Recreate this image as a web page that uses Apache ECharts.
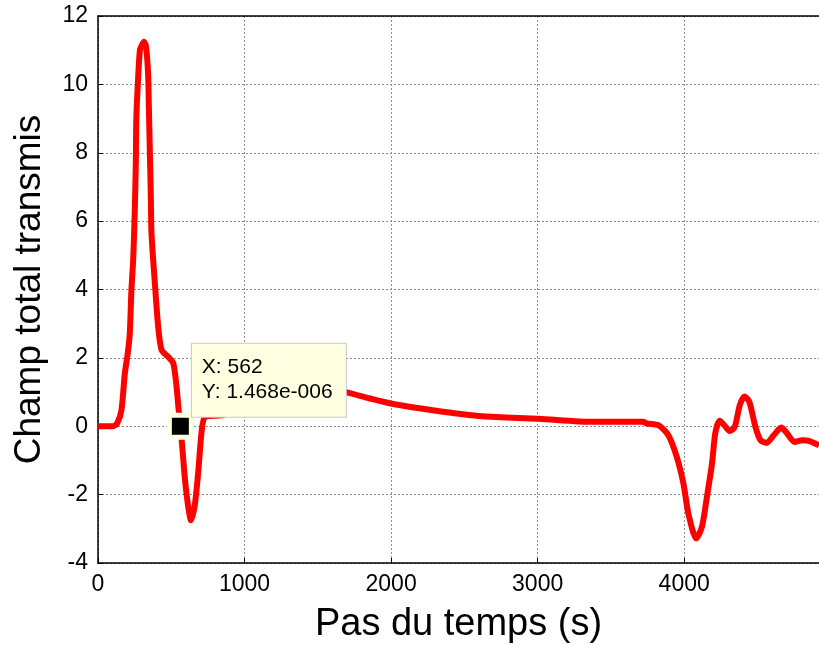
<!DOCTYPE html>
<html>
<head>
<meta charset="utf-8">
<script src="https://cdn.jsdelivr.net/npm/echarts@6/dist/echarts.min.js"></script>
<style>
  html, body { margin: 0; padding: 0; background: #fff; }
  #main { width: 819px; height: 646px; }
</style>
</head>
<body>
<div id="main"></div>
<script>
// pas du temps (s)
const timeSteps = [
  0, 100, 130, 160, 183, 205, 217, 228, 240, 251, 258, 262, 274, 286, 300, 313,
  328, 342, 347, 354, 361, 365, 388, 411, 434, 479, 514, 536, 550, 562, 575, 594,
  616, 635, 662, 685, 708, 731, 845, 900, 1000, 1100, 1200, 1300, 1400, 1500, 1600,
  1690, 1849, 2005, 2283, 2625, 3005, 3379, 3721, 3745, 3824, 3892, 3950, 3995,
  4029, 4082, 4121, 4155, 4190, 4212, 4242, 4274, 4310, 4345, 4379, 4411, 4445,
  4486, 4521, 4562, 4612, 4662, 4703, 4753, 4806, 4851, 4920
];
// champ total transmis
const fieldValues = [
  0, 0, 0.08, 0.47, 1.54, 2.2, 2.72, 3.98, 4.86, 6.3, 7.7, 9.06, 10.2, 11.0, 11.15, 11.25,
  11.1, 10.3, 9.35, 8.0, 6.6, 5.64, 4.18, 2.9, 2.23, 2.03, 1.84, 1.15, 0.5, 0, -0.6, -1.58,
  -2.36, -2.75, -2.26, -1.29, -0.12, 0.27, 0.32, 0.42, 0.62, 0.85, 1.02, 1.15, 1.15, 1.12, 1.06,
  1.0, 0.82, 0.66, 0.47, 0.29, 0.22, 0.13, 0.13, 0.08, 0.03, -0.26, -0.9, -1.68,
  -2.56, -3.28, -2.95, -2.07, -1.09, -0.21, 0.16, 0.03, -0.14, -0.02, 0.61, 0.87, 0.71,
  -0.02, -0.41, -0.49, -0.26, -0.04, -0.21, -0.46, -0.41, -0.43, -0.56
];
// data tip
const tipX = 562;
const tipY = 1.468e-6;
const tipYText = '1.468e-006';

const font = 'Liberation Sans, Arial, sans-serif';
const chart = echarts.init(document.getElementById('main'));

chart.setOption({
  animation: false,
  grid: { left: 98, right: 0, top: 16, bottom: 83, containLabel: false, outerBoundsMode: 'none' },
  xAxis: [
    {
      type: 'value',
      min: 0,
      max: 4920,
      interval: 1000,
      name: 'Pas du temps (s)',
      nameLocation: 'middle',
      nameGap: 43,
      nameTextStyle: { fontFamily: font, fontSize: 38, color: '#000' },
      axisLine: { onZero: false, lineStyle: { color: '#000', width: 1.5 } },
      axisTick: { inside: true, length: 5, lineStyle: { color: '#000' } },
      axisLabel: {
        fontFamily: font, fontSize: 23, color: '#000', margin: 10, showMaxLabel: false,
        formatter: v => String(v)
      },
      splitLine: { show: true, showMaxLine: false, lineStyle: { color: '#8c8c8c', type: [2, 2], width: 1 } }
    },
    {
      type: 'value',
      position: 'top',
      min: 0,
      max: 4920,
      axisLine: { show: true, onZero: false, lineStyle: { color: '#000', width: 1.5 } },
      axisTick: { show: false },
      axisLabel: { show: false },
      splitLine: { show: false }
    }
  ],
  yAxis: {
    type: 'value',
    min: -4,
    max: 12,
    interval: 2,
    name: 'Champ total transmis',
    nameLocation: 'middle',
    nameGap: 50,
    nameTextStyle: { fontFamily: font, fontSize: 37, color: '#000' },
    axisLine: { show: true, onZero: false, lineStyle: { color: '#000', width: 1.5 } },
    axisTick: { show: true, inside: true, length: 5, lineStyle: { color: '#000' } },
    axisLabel: { fontFamily: font, fontSize: 23, color: '#000', margin: 10 },
    splitLine: { show: true, lineStyle: { color: '#8c8c8c', type: [2, 2], width: 1 } }
  },
  series: [
    {
      type: 'line',
      data: timeSteps.map((t, i) => [t, fieldValues[i]]),
      showSymbol: false,
      smooth: 0.25,
      lineStyle: { color: '#ff0000', width: 6 },
      z: 2
    },
    {
      type: 'scatter',
      data: [[tipX, tipY]],
      symbol: 'rect',
      symbolSize: 22,
      itemStyle: { color: '#000', borderColor: '#ffffe1', borderWidth: 5, opacity: 1 },
      label: {
        show: true,
        position: [25, -69],
        formatter: 'X: ' + tipX + '\nY: ' + tipYText,
        fontFamily: font,
        fontSize: 21,
        lineHeight: 25,
        color: '#000',
        backgroundColor: '#ffffe1',
        borderColor: '#c8c8c8',
        borderWidth: 1,
        padding: [11, 10, 12, 10],
        width: 134,
        align: 'left',
        verticalAlign: 'top'
      },
      emphasis: { disabled: true },
      z: 5
    }
  ]
});
</script>
</body>
</html>
